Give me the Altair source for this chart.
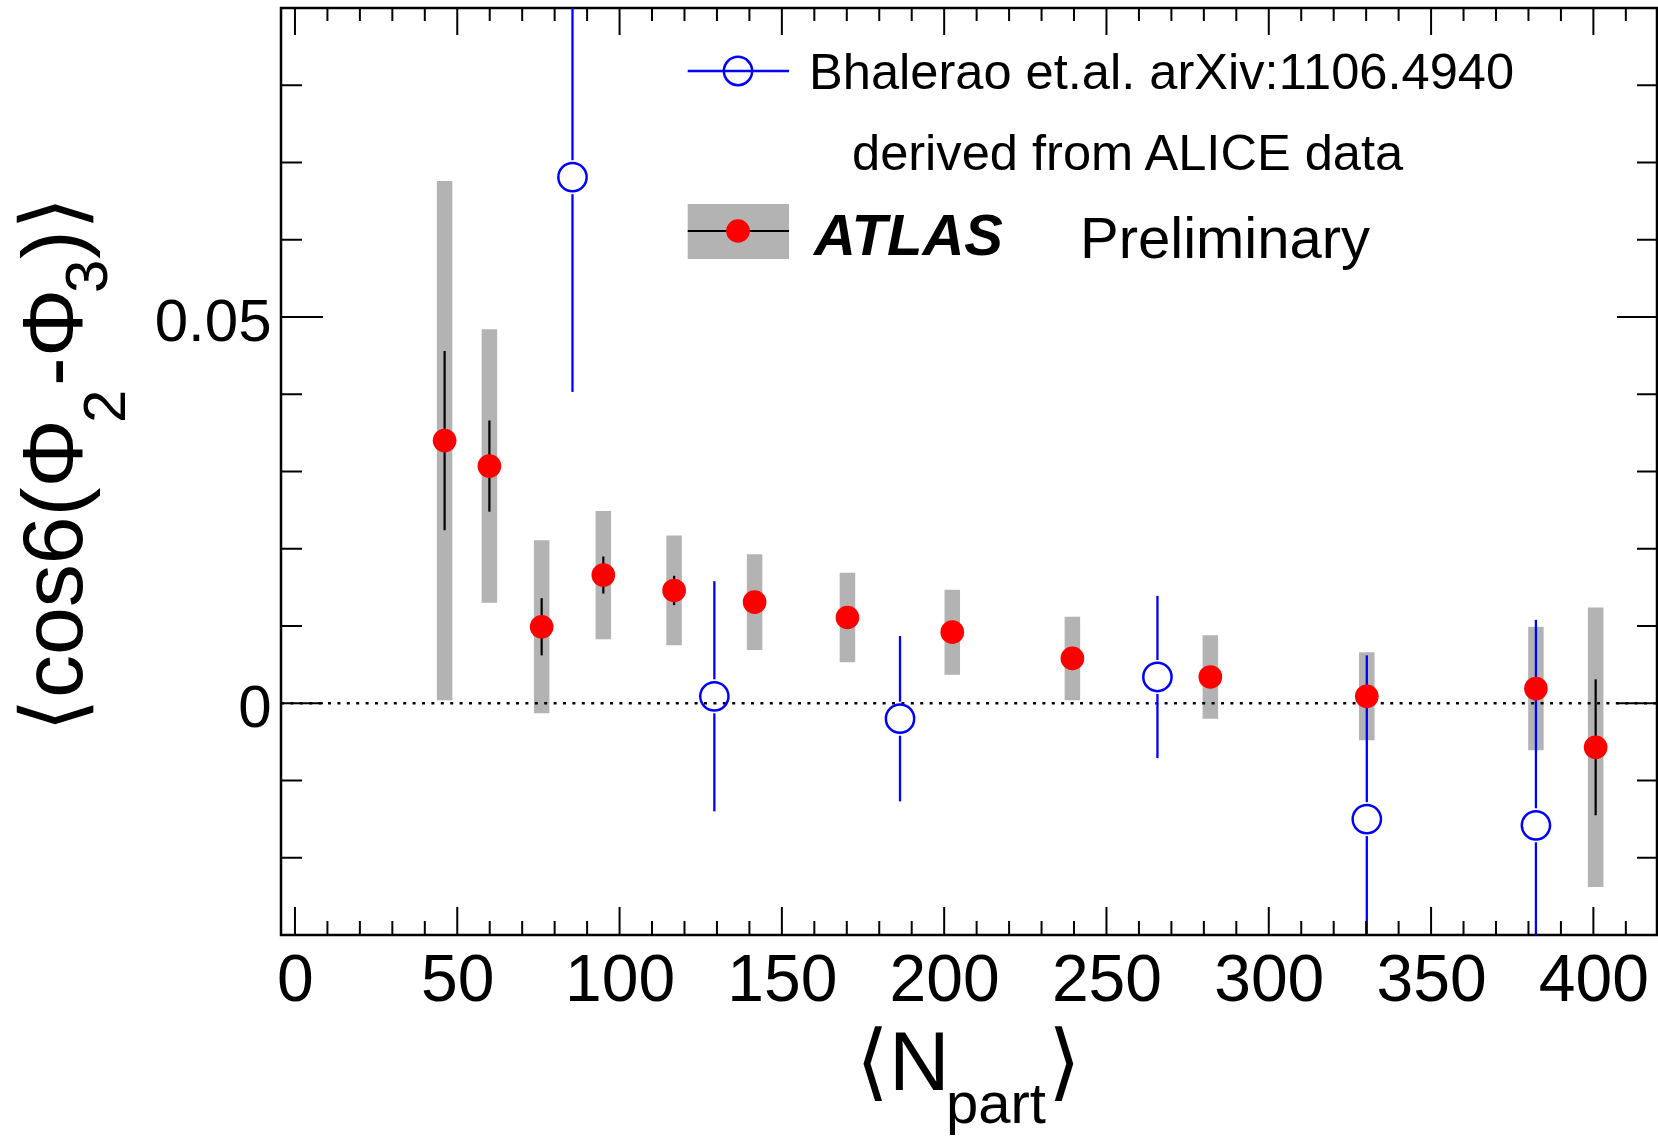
import altair as alt
import pandas as pd

# ATLAS: <Npart>, <cos6(Phi2-Phi3)>, statistical and systematic uncertainties
npart_atlas = [46.1, 59.9, 76.0, 95.0, 116.8, 141.6, 170.2, 202.5, 239.5, 282.0, 330.2, 382.3, 400.7]
val_atlas = [0.0340, 0.0307, 0.0099, 0.0166, 0.0146, 0.0131, 0.0111, 0.0092, 0.0058, 0.0034, 0.0009, 0.0019, -0.0057]
stat_atlas = [0.0116, 0.0059, 0.0037, 0.0024, 0.0019, 0.0012, 0.0012, 0.0012, 0.0012, 0.0012, 0.0012, 0.0012, 0.0088]
sys_atlas = [0.0336, 0.0177, 0.0112, 0.0083, 0.0071, 0.0062, 0.0058, 0.0055, 0.0054, 0.0054, 0.0057, 0.0080, 0.0181]

# Bhalerao et al., derived from ALICE data
npart_bh = [85.5, 129.2, 186.4, 265.7, 330.2, 382.3]
val_bh = [0.0681, 0.0009, -0.0020, 0.0034, -0.0150, -0.0158]
err_bh = [0.0278, 0.0149, 0.0107, 0.0105, 0.0212, 0.0266]

# axis ticks
x_major = [0, 50, 100, 150, 200, 250, 300, 350, 400]
x_minor = [v for v in range(10, 420, 10) if v % 50 != 0]
y_major = [0.0, 0.05]
y_minor = [-0.02, -0.01, 0.01, 0.02, 0.03, 0.04, 0.06, 0.07, 0.08]

X_DOMAIN = [-4.3, 419.6]
Y_DOMAIN = [-0.03, 0.09]
W, H = 1376, 927
FONT = "Liberation Sans"

atlas = pd.DataFrame({"x": npart_atlas, "y": val_atlas})
atlas["stat_lo"] = atlas["y"] - pd.Series(stat_atlas)
atlas["stat_hi"] = atlas["y"] + pd.Series(stat_atlas)
atlas["sys_lo"] = atlas["y"] - pd.Series(sys_atlas)
atlas["sys_hi"] = atlas["y"] + pd.Series(sys_atlas)

bh = pd.DataFrame({"x": npart_bh, "y": val_bh})
bh["lo"] = bh["y"] - pd.Series(err_bh)
bh["hi"] = bh["y"] + pd.Series(err_bh)

xs = alt.Scale(domain=X_DOMAIN, nice=False, zero=False)
ys = alt.Scale(domain=Y_DOMAIN, nice=False, zero=False)

x_axis = alt.Axis(values=x_major, format="d", labelFont=FONT, labelFontSize=66,
                  labelColor="black", labelPadding=13, labelOverlap=False, labelLimit=400,
                  ticks=False, tickSize=0, domain=False, grid=False, title=None)
y_axis = alt.Axis(values=y_major, format="~g", labelFont=FONT, labelFontSize=60,
                  labelColor="black", labelPadding=10, labelOffset=5, labelLimit=400,
                  labelAlign="right", labelBaseline="middle", labelOverlap=False,
                  ticks=False, tickSize=0, domain=False, grid=False, title=None)


def X(field="x"):
    return alt.X(f"{field}:Q", scale=xs, axis=x_axis)


def Y(field="y"):
    return alt.Y(f"{field}:Q", scale=ys, axis=y_axis)


one = pd.DataFrame({"k": [0]})

# systematic boxes
sys_boxes = alt.Chart(atlas).mark_rule(color="#b3b3b3", strokeWidth=15.5, strokeCap="butt", clip=True).encode(
    x=X(), y=Y("sys_lo"), y2="sys_hi")

# zero line
zero_line = alt.Chart(pd.DataFrame({"y": [0.0]})).mark_rule(
    color="black", strokeWidth=2.5, strokeDash=[3, 6.4]).encode(
    y=Y(), x=alt.value(0), x2=alt.value(W))

stat_bars = alt.Chart(atlas).mark_rule(color="black", strokeWidth=2.2, clip=True).encode(
    x=X(), y=Y("stat_lo"), y2="stat_hi")

bh_up = alt.Chart(bh).mark_rule(color="#0000ff", strokeWidth=2.3, clip=True, y2Offset=-17).encode(
    x=X(), y=Y("hi"), y2="y")
bh_down = alt.Chart(bh).mark_rule(color="#0000ff", strokeWidth=2.3, clip=True, yOffset=17).encode(
    x=X(), y=Y("y"), y2="lo")

atlas_pts = alt.Chart(atlas).mark_circle(size=560, color="#ff0000", opacity=1).encode(x=X(), y=Y())
bh_pts = alt.Chart(bh).mark_point(shape="circle", size=800, filled=False, color="#0000ff",
                                  strokeWidth=2.5, opacity=1).encode(x=X(), y=Y())

# ticks on all four sides, pointing inward
xmaj = pd.DataFrame({"x": x_major})
xmin = pd.DataFrame({"x": x_minor})
ymaj = pd.DataFrame({"y": y_major})
ymin = pd.DataFrame({"y": y_minor})
tk = dict(color="black", strokeWidth=2)
ticks = [
    alt.Chart(xmaj).mark_rule(**tk).encode(x=X(), y=alt.value(H), y2=alt.value(H - 28)),
    alt.Chart(xmin).mark_rule(**tk).encode(x=X(), y=alt.value(H), y2=alt.value(H - 14)),
    alt.Chart(xmaj).mark_rule(**tk).encode(x=X(), y=alt.value(0), y2=alt.value(27)),
    alt.Chart(xmin).mark_rule(**tk).encode(x=X(), y=alt.value(0), y2=alt.value(13)),
    alt.Chart(ymaj).mark_rule(**tk).encode(y=Y(), x=alt.value(0), x2=alt.value(42)),
    alt.Chart(ymin).mark_rule(**tk).encode(y=Y(), x=alt.value(0), x2=alt.value(21)),
    alt.Chart(ymaj).mark_rule(**tk).encode(y=Y(), x=alt.value(W), x2=alt.value(W - 40)),
    alt.Chart(ymin).mark_rule(**tk).encode(y=Y(), x=alt.value(W), x2=alt.value(W - 20)),
]


def text(s, x, y, size, angle=0, **kw):
    props = dict(text=s, align="left", baseline="alphabetic", font=FONT, fontSize=size, color="black")
    if angle:
        props["angle"] = angle
    props.update(kw)
    return alt.Chart(one).mark_text(**props).encode(x=alt.value(x), y=alt.value(y))


# legend
legend = [
    alt.Chart(one).mark_rule(color="#0000ff", strokeWidth=2.3).encode(
        x=alt.value(406.7), x2=alt.value(508), y=alt.value(63)),
    alt.Chart(one).mark_point(shape="circle", size=800, filled=False, color="#0000ff",
                              strokeWidth=2.5, opacity=1).encode(x=alt.value(457), y=alt.value(63)),
    text("Bhalerao et.al. arXiv:1106.4940", 528, 81, 50.6),
    text("derived from ALICE data", 571, 162, 50.6),
    alt.Chart(one).mark_rect(color="#b3b3b3").encode(
        x=alt.value(406.7), x2=alt.value(508), y=alt.value(196), y2=alt.value(251)),
    alt.Chart(one).mark_rule(color="black", strokeWidth=2.2).encode(
        x=alt.value(406.7), x2=alt.value(508), y=alt.value(223)),
    alt.Chart(one).mark_circle(size=560, color="#ff0000", opacity=1).encode(
        x=alt.value(457), y=alt.value(223)),
    text("ATLAS", 533, 247, 58, fontWeight="bold", fontStyle="italic"),
    text("Preliminary", 799, 250, 58),
]

# axis titles
titles = [
    text("\u27e8cos6(\u03a6", -199, 724, 86, angle=270),
    text("2", -156, 415, 60, angle=270),
    text("-\u03a6", -199, 378, 86, angle=270),
    text("3", -174, 285, 60, angle=270),
    text(")\u27e9", -199, 251, 86, angle=270),
    text("\u27e8N", 575, 1082, 84),
    text("part", 665, 1115, 58),
    text("\u27e9", 767, 1082, 84),
]

chart = alt.layer(
    sys_boxes, zero_line, stat_bars, bh_up, bh_down, atlas_pts, bh_pts,
    *ticks, *legend, *titles,
).properties(
    width=W, height=H,
    padding={"left": 281, "top": 8, "right": 1, "bottom": 202},
    autosize=alt.AutoSizeParams(type="none"),
    background="white",
).configure_view(stroke="black", strokeWidth=2.5)

chart.save("out.html", embed_options={"renderer": "svg", "actions": False})
